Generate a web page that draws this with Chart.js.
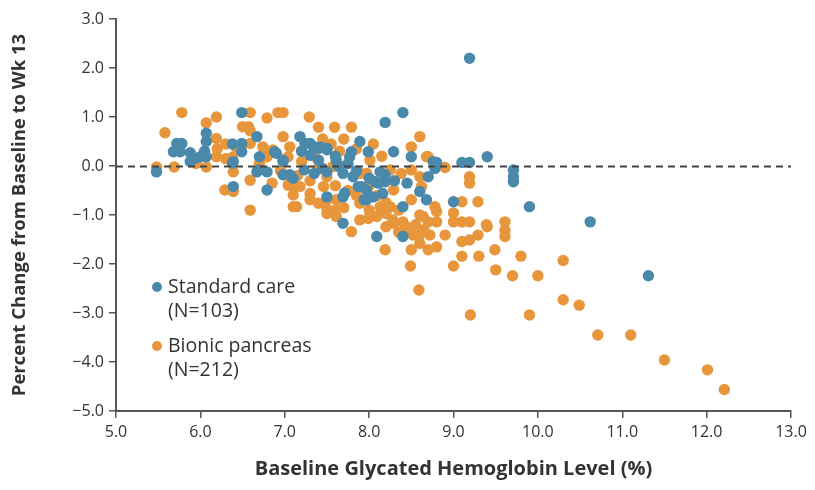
<!DOCTYPE html>
<html>
<head>
<meta charset="utf-8">
<script src="https://cdn.jsdelivr.net/npm/chart.js@4.4.1/dist/chart.umd.min.js"></script>
<style>
  html, body { margin: 0; padding: 0; background: #ffffff; }
  #wrap { width: 815px; height: 490px; }
</style>
</head>
<body>
<div id="wrap"><canvas id="chart" width="815" height="490"></canvas></div>
<script>
// Baseline HbA1c (%) and percent change at week 13, standard-care group
const standardA1c = [
  5.48, 5.72, 5.78, 5.68, 5.76, 5.88, 5.94, 6.00, 5.88, 6.07,
  6.07, 6.07, 6.49, 6.49, 6.49, 6.67, 6.70, 6.67, 6.79, 6.90,
  6.39, 6.39, 6.79, 8.19, 8.40, 7.89, 7.99, 8.29, 8.50, 8.76,
  8.70, 8.40, 8.68, 6.88, 6.98, 7.18, 7.30, 7.40, 7.50, 7.30,
  7.40, 7.61, 7.77, 7.69, 7.81, 7.91, 7.97, 8.11, 8.19, 7.06,
  7.10, 7.50, 7.69, 7.69, 9.19, 9.40, 9.10, 9.19, 8.80, 8.78,
  9.71, 9.71, 9.71, 9.90, 10.62, 9.00, 8.60, 8.40, 11.31, 8.09,
  7.79, 8.13, 8.05, 8.16, 7.97, 7.71, 7.87, 8.07, 8.19, 7.24,
  7.34, 7.42, 7.50, 6.38, 6.69, 7.23, 7.35, 7.50, 7.64, 6.98,
  7.08, 6.98, 7.94, 6.38, 7.60, 7.45, 7.85, 8.00, 7.20, 7.75,
  8.30, 6.05, 8.45
];
const standardChange = [
  -0.12, 0.46, 0.46, 0.29, 0.29, 0.27, 0.16, 0.19, 0.09, 0.19,
  0.67, 0.50, 1.09, 0.46, 0.29, 0.60, 0.19, -0.12, -0.12, 0.26,
  0.09, -0.42, -0.49, 0.89, 1.09, 0.50, 0.29, 0.29, 0.19, 0.09,
  -0.22, -0.83, -0.69, 0.29, 0.09, 0.60, 0.46, 0.36, 0.36, 0.22,
  0.12, 0.12, 0.19, -0.15, -0.22, -0.42, -0.49, -0.35, -0.18, -0.18,
  -0.25, -0.63, -0.63, -1.17, 2.20, 0.19, 0.07, 0.07, 0.07, -0.05,
  -0.08, -0.22, -0.32, -0.83, -1.14, -0.73, -0.52, -1.44, -2.24, -1.44,
  0.29, -0.12, -0.63, -0.56, -0.69, -0.55, -0.42, -0.32, -0.32, 0.46,
  0.40, 0.39, 0.33, 0.06, -0.08, -0.08, -0.15, -0.12, -0.01, -0.18,
  -0.22, 0.12, -0.69, 0.45, 0.20, -0.05, -0.10, -0.25, 0.30, 0.05,
  -0.30, 0.30, -0.35
];

// Baseline HbA1c (%) and percent change at week 13, bionic-pancreas group
const bionicA1c = [
  5.48, 5.58, 5.78, 5.69, 6.07, 6.07, 6.19, 6.59, 6.79, 6.92,
  6.19, 6.30, 6.38, 6.57, 6.50, 6.19, 6.39, 6.29, 6.39, 6.59,
  6.59, 6.98, 7.29, 7.40, 7.59, 7.79, 8.50, 8.60, 8.70, 8.60,
  8.50, 8.29, 8.64, 6.79, 6.98, 7.06, 7.10, 7.10, 7.30, 7.50,
  7.50, 7.61, 7.89, 8.09, 8.29, 7.20, 7.38, 7.50, 7.57, 7.97,
  8.01, 8.68, 8.90, 9.19, 9.19, 9.10, 9.29, 9.00, 9.19, 9.39,
  9.61, 9.61, 9.61, 9.00, 8.20, 8.20, 8.28, 8.40, 8.60, 8.70,
  8.80, 8.80, 9.10, 9.40, 8.40, 8.52, 8.60, 8.72, 8.60, 8.50,
  8.70, 8.80, 8.90, 9.10, 9.19, 9.29, 9.10, 9.30, 8.19, 8.49,
  9.00, 9.49, 9.50, 9.70, 9.80, 10.00, 10.30, 8.59, 9.20, 9.90,
  10.30, 10.49, 10.71, 11.10, 11.50, 12.01, 12.21, 7.50, 7.60, 7.79,
  7.89, 7.99, 7.67, 7.90, 8.25, 8.50, 8.38, 8.62, 8.13, 8.25,
  8.78, 6.59, 6.42, 6.59, 6.74, 6.86, 7.04, 7.04, 7.10, 7.18,
  7.30, 7.46, 7.40, 7.61, 7.14, 7.20, 7.35, 7.45, 7.55, 7.65,
  7.70, 7.85, 8.05, 8.15, 7.15, 7.30, 7.60, 7.75, 7.85, 8.00,
  8.10, 8.20, 8.35, 8.45, 8.55, 8.65, 8.35, 8.00, 7.70, 6.85,
  6.95, 6.20, 6.30, 5.95, 6.70
];
const bionicChange = [
  -0.02, 0.68, 1.09, -0.02, -0.02, 0.88, 1.00, 1.09, 0.98, 1.09,
  0.56, 0.45, 0.18, 0.80, 0.80, 0.19, -0.12, -0.49, -0.52, -0.29,
  -0.90, 1.09, 1.00, 0.79, 0.79, 0.79, 0.39, 0.60, 0.19, -0.22,
  -0.69, -0.49, -1.03, 0.19, 0.60, 0.39, -0.42, -0.83, -0.69, -0.69,
  -0.97, -1.03, -0.76, -1.03, -1.17, 0.09, -0.08, -0.22, -0.01, -0.15,
  0.12, 0.19, -0.03, -0.22, -0.35, -0.73, -0.73, -0.96, -1.14, -1.20,
  -1.14, -1.31, -1.44, -1.14, -0.97, -1.24, -1.10, -1.14, -1.00, -1.14,
  -0.93, -1.14, -1.14, -1.24, -1.41, -1.41, -1.41, -1.41, -1.58, -1.71,
  -1.71, -1.65, -1.41, -1.54, -1.51, -1.41, -1.84, -1.84, -1.71, -2.04,
  -2.04, -1.71, -2.12, -2.24, -1.84, -2.24, -1.93, -2.53, -3.04, -3.04,
  -2.73, -2.84, -3.45, -3.45, -3.96, -4.16, -4.56, -0.88, -0.90, -1.34,
  -1.10, -1.07, -0.01, -0.15, -0.08, -0.08, -0.15, -0.42, -0.83, -0.83,
  -0.83, 0.72, 0.39, 0.46, 0.39, 0.33, 0.19, -0.39, -0.59, -0.42,
  -0.56, -0.42, -0.76, -0.69, -0.83, 0.30, 0.20, 0.55, 0.45, 0.30,
  0.55, 0.35, 0.45, 0.20, -0.20, -0.30, -0.40, -0.50, -0.60, -0.40,
  -0.60, -0.75, -0.90, -1.25, -1.20, -1.30, -1.35, -0.90, -0.85, -0.35,
  -0.10, 0.35, 0.15, 0.05, 0.05
];

const xTickValues = [5, 6, 7, 8, 9, 10, 11, 12, 13];
const yTickValues = [-5, -4, -3, -2, -1, 0, 1, 2, 3];

const groupLabels = ['Standard care', 'Bionic pancreas'];
const groupCounts = ['(N=103)', '(N=212)'];
const groupColors = ['#4a89aa', '#e8963b'];

const axisColor = '#555555';
const textColor = '#333333';
const fontFamily = '"Open Sans", "Noto Sans", sans-serif';

function toPoints(xs, ys) {
  return xs.map((x, i) => ({ x: x, y: ys[i] }));
}

const fmt = v => {
  const s = Number(v).toFixed(1);
  return s.startsWith('-') ? '\u2212' + s.slice(1) : s;
};

// Dashed reference line at zero change, drawn above the points
const zeroLine = {
  id: 'zeroLine',
  afterDatasetsDraw(chart) {
    const { ctx, chartArea, scales } = chart;
    const y0 = Math.round(scales.y.getPixelForValue(0)) + 0.5;
    ctx.save();
    ctx.strokeStyle = '#444444';
    ctx.lineWidth = 2;
    ctx.setLineDash([7, 5]);
    ctx.beginPath();
    ctx.moveTo(chartArea.left, y0);
    ctx.lineTo(chartArea.right, y0);
    ctx.stroke();
    ctx.restore();
  }
};

// Two-line legend entries inside the plot area
const innerLegend = {
  id: 'innerLegend',
  afterDraw(chart) {
    const { ctx, chartArea } = chart;
    const dotX = chartArea.left + 41;
    const textX = dotX + 11;
    const firstY = chartArea.top + 268;
    const lineGap = 24;
    const blockGap = 59;
    ctx.save();
    ctx.font = '19.5px ' + fontFamily;
    ctx.textBaseline = 'middle';
    ctx.textAlign = 'left';
    chart.data.datasets.forEach((ds, i) => {
      const y = firstY + i * blockGap;
      ctx.fillStyle = ds.backgroundColor;
      ctx.beginPath();
      ctx.arc(dotX, y, 5, 0, Math.PI * 2);
      ctx.fill();
      ctx.fillStyle = textColor;
      ctx.fillText(ds.label, textX, y);
      ctx.fillText(groupCounts[i], textX, y + lineGap);
    });
    ctx.restore();
  }
};

new Chart(document.getElementById('chart'), {
  type: 'scatter',
  data: {
    datasets: [
      {
        label: groupLabels[0],
        data: toPoints(standardA1c, standardChange),
        backgroundColor: groupColors[0],
        borderWidth: 0,
        pointRadius: 5.7
      },
      {
        label: groupLabels[1],
        data: toPoints(bionicA1c, bionicChange),
        backgroundColor: groupColors[1],
        borderWidth: 0,
        pointRadius: 5.7
      }
    ]
  },
  options: {
    responsive: false,
    devicePixelRatio: 1,
    animation: false,
    events: [],
    layout: { padding: { top: 19, right: 24, left: 0, bottom: 0 } },
    plugins: {
      legend: { display: false },
      tooltip: { enabled: false }
    },
    scales: {
      x: {
        type: 'linear',
        min: 5,
        max: 13,
        afterBuildTicks: s => { s.ticks = xTickValues.map(v => ({ value: v })); },
        afterFit: s => { s.height = 79; },
        ticks: {
          callback: fmt,
          color: textColor,
          font: { family: fontFamily, size: 16 },
          padding: 5,
          maxRotation: 0
        },
        grid: {
          display: true,
          drawOnChartArea: false,
          drawTicks: true,
          tickLength: 7,
          color: axisColor,
          lineWidth: 1.5
        },
        border: { display: true, color: axisColor, width: 2 },
        title: {
          display: true,
          text: 'Baseline Glycated Hemoglobin Level (%)',
          color: textColor,
          font: { family: fontFamily, size: 20, weight: 'bold' },
          padding: { top: 0, bottom: 9 }
        }
      },
      y: {
        type: 'linear',
        min: -5,
        max: 3,
        afterBuildTicks: s => { s.ticks = yTickValues.map(v => ({ value: v })); },
        afterFit: s => { s.width = 116; },
        ticks: {
          callback: fmt,
          color: textColor,
          font: { family: fontFamily, size: 16 },
          padding: 5
        },
        grid: {
          display: true,
          drawOnChartArea: false,
          drawTicks: true,
          tickLength: 7,
          color: axisColor,
          lineWidth: 1.5
        },
        border: { display: true, color: axisColor, width: 2 },
        title: {
          display: true,
          text: 'Percent Change from Baseline to Wk 13',
          color: textColor,
          font: { family: fontFamily, size: 18.5, weight: 'bold' },
          padding: { top: 9, bottom: 0 }
        }
      }
    }
  },
  plugins: [zeroLine, innerLegend]
});
</script>
</body>
</html>
